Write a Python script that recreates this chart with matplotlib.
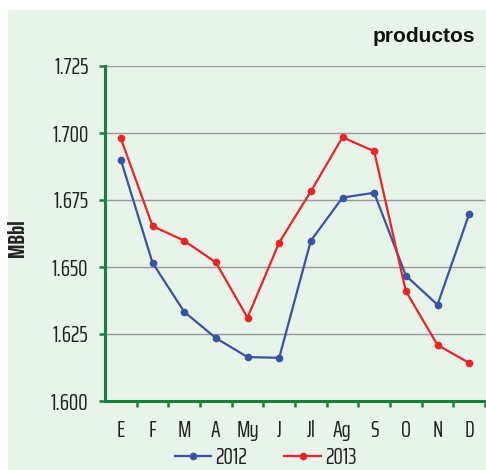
import matplotlib
matplotlib.use("Agg")
import matplotlib.pyplot as plt
from matplotlib.patches import Rectangle
from matplotlib.ticker import FixedLocator

months = ["E", "F", "M", "A", "My", "J", "Jl", "Ag", "S", "O", "N", "D"]
s2012 = [1.690, 1.6516, 1.6333, 1.6235, 1.6164, 1.6161, 1.6598, 1.6759, 1.6777, 1.6468, 1.6359, 1.6698]
s2013 = [1.698, 1.6653, 1.6598, 1.6517, 1.6311, 1.6591, 1.6782, 1.6984, 1.6932, 1.641, 1.6209, 1.6142]
yticks = [1.600, 1.625, 1.650, 1.675, 1.700, 1.725]
ytick_labels = ["1.600", "1.625", "1.650", "1.675", "1.700", "1.725"]
title = "productos"
ylabel = "MBbl"
series_names = ["2012", "2013"]

narrow = ["Saira ExtraCondensed", "Roboto Condensed", "DejaVu Sans"]
bg = "#e8f3e9"
green = "#1a7f3c"
blue = "#3a53a4"
red = "#ee2328"
txtc = "#222222"
FS = 17

fig = plt.figure(figsize=(4.86, 4.70), dpi=100)
fig.patch.set_facecolor("white")
fig.patches.append(Rectangle((8/486, 0), 1 - 8/486, 460/470, transform=fig.transFigure,
                             facecolor=bg, edgecolor="none", zorder=-10))

ax = fig.add_axes([105/486, 69/470, 380/486, 335/470])
ax.set_facecolor("none")
x = list(range(len(months)))
ax.plot(x, s2012, color=blue, lw=1.6, marker="o", ms=4.5, label=series_names[0], zorder=3)
ax.plot(x, s2013, color=red, lw=1.6, marker="o", ms=4.5, label=series_names[1], zorder=3)

ax.set_xlim(-0.5, 11.5)
ax.set_ylim(1.600, 1.725)
ax.yaxis.set_major_locator(FixedLocator(yticks))
ax.set_yticklabels(ytick_labels, family=narrow, fontsize=FS, color=txtc)
ax.set_xticks(x)
ax.set_xticklabels(months, family=narrow, fontsize=FS, color=txtc)
ax.set_xticks([i + 0.5 for i in x], minor=True)
ax.tick_params(axis="x", which="major", length=0, pad=14)
ax.tick_params(axis="x", which="minor", length=4, width=1.8, color=green, direction="out")
ax.tick_params(axis="y", length=4, width=1.8, color=green, direction="out", pad=8)

for s in ["top", "right"]:
    ax.spines[s].set_visible(False)
for s in ["left", "bottom"]:
    ax.spines[s].set_color(green)
    ax.spines[s].set_linewidth(2.2)

ax.grid(axis="y", color="#999999", lw=1.0, zorder=0)
ax.set_axisbelow(True)

ax.set_ylabel(ylabel, family=narrow, fontsize=17, fontweight="bold", color=txtc)
ax.yaxis.set_label_coords(-0.2, 0.487)

fig.text(0.978, 0.922, title, ha="right", va="center", fontsize=15, fontweight="bold",
         family="Liberation Sans", color="#111111")

leg = fig.legend(loc="center", bbox_to_anchor=(0.546, 0.026), ncol=2, frameon=False,
                 prop={"family": narrow, "size": FS}, handlelength=1.55, columnspacing=1.6,
                 handletextpad=0.15, borderpad=0, borderaxespad=0)
for t in leg.get_texts():
    t.set_color(txtc)

fig.savefig("out.png", dpi=100)
